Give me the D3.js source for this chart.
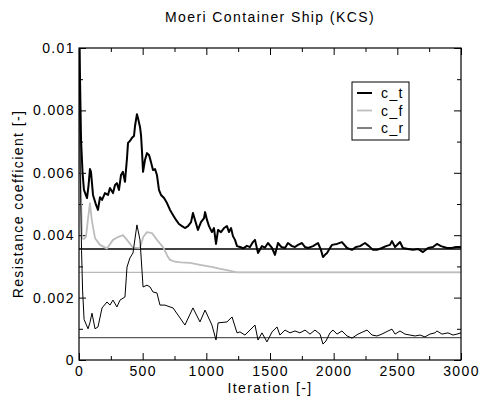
<!DOCTYPE html>
<html>
<head>
<meta charset="utf-8">
<script src="https://cdn.jsdelivr.net/npm/d3@7"></script>
<style>
  body { margin: 0; background: #fff; }
  svg text { font-family: "Liberation Sans", Arial, sans-serif; font-size: 14px; letter-spacing: 1.4px; fill: #000; }
</style>
</head>
<body>
<div id="chart"></div>
<script>
// values are in units of 1e-3
var xTicks = [0, 500, 1000, 1500, 2000, 2500, 3000];
var yTicks = [0, 2, 4, 6, 8, 10];
var yTickLabels = ["0", "0.002", "0.004", "0.006", "0.008", "0.01"];

var ctIter = [0,8,16,28,39,63,75,86,94,110,134,149,165,181,204,228,243,267,283,298,
  314,330,345,361,377,385,400,416,432,440,455,463,479,487,495,503,518,534,550,565,
  581,597,612,628,644,668,691,715,738,762,785,809,832,856,880,895,911,934,958,982,
  990,1005,1021,1044,1060,1076,1092,1115,1139,1162,1178,1194,1209,1225,1241,1264,1290,1319,1343,1366,
  1382,1406,1437,1460,1484,1516,1539,1563,1590,1618,1641,1673,1696,1720,1751,1775,1798,1838,1877,1900,
  1916,1932,1948,1971,1987,2026,2065,2105,2144,2175,2207,2246,2277,2309,2340,2379,2411,2442,2458,2482,
  2521,2544,2584,2623,2662,2701,2741,2780,2811,2843,2890,2929,2961,3000];
var ct = [11.5,9.0,7.05,6.0,5.45,5.19,5.6,6.12,6.03,5.29,4.97,4.81,5.22,5.13,5.35,5.29,5.51,5.35,5.61,5.67,
  5.45,5.93,6.03,5.71,6.47,6.96,7.02,7.12,7.18,7.5,7.88,7.76,7.47,7.21,6.67,6.03,6.41,6.63,6.57,6.35,
  6.09,6.12,5.93,5.45,5.29,5.19,5.03,4.81,4.65,4.49,4.36,4.29,4.23,4.29,4.42,4.71,4.49,4.17,4.42,4.55,
  4.74,4.49,4.29,4.10,4.23,3.72,4.17,4.10,4.23,4.29,4.10,4.23,3.97,3.85,3.65,3.62,3.58,3.66,3.62,3.78,
  3.85,3.43,3.65,3.6,3.75,3.59,3.37,3.75,3.62,3.59,3.75,3.65,3.62,3.69,3.75,3.62,3.59,3.65,3.75,3.53,
  3.30,3.37,3.43,3.59,3.69,3.72,3.78,3.59,3.53,3.62,3.65,3.75,3.65,3.53,3.53,3.59,3.65,3.69,3.81,3.62,
  3.78,3.59,3.56,3.53,3.56,3.46,3.59,3.62,3.72,3.65,3.59,3.59,3.62,3.62];

var cfIter = [0,10,24,40,55,70,86,100,126,165,220,267,306,345,377,424,479,505,534,573,
  612,660,699,715,754,800,872,950,1052,1100,1162,1241,1500,2000,2500,3000];
var cf = [12,6.5,3.9,3.88,3.95,4.5,5.03,4.5,3.9,3.69,3.57,3.85,3.94,4.0,3.85,3.6,3.59,3.95,4.10,4.07,
  3.85,3.62,3.3,3.21,3.15,3.13,3.11,3.05,2.98,2.93,2.88,2.81,2.81,2.81,2.81,2.81];

var crIter = [0,10,20,28,40,71,86,102,126,149,181,220,243,267,298,322,361,377,400,424,
  455,479,503,534,558,581,612,636,675,715,738,793,832,895,950,990,1044,1076,1092,1162,
  1202,1241,1264,1303,1343,1382,1406,1437,1476,1516,1555,1578,1618,1657,1696,1735,1775,1814,1853,1893,
  1916,1940,1971,1995,2026,2065,2105,2144,2191,2230,2262,2301,2340,2379,2427,2458,2482,2521,2560,2599,
  2639,2678,2717,2756,2796,2811,2851,2898,2937,2968,3000];
var cr = [11,6,3.5,2.24,1.3,1.0,1.2,1.5,1.0,1.06,1.67,1.86,1.76,1.92,1.70,1.92,2.02,2.98,3.27,3.43,
  4.33,3.85,2.34,2.40,2.34,2.18,2.15,1.76,1.76,1.70,1.67,1.35,1.12,1.67,1.22,1.60,1.12,0.64,1.19,1.22,
  1.38,0.87,0.90,0.80,0.96,1.12,0.64,0.87,0.58,0.90,1.06,0.80,0.96,0.87,0.93,0.87,0.96,0.83,0.96,0.83,
  0.51,0.61,0.87,0.96,0.83,0.93,0.77,0.70,0.83,0.90,0.96,0.80,0.77,0.83,0.93,0.99,0.83,0.93,0.83,0.80,
  0.77,0.80,0.74,0.83,0.87,0.93,0.83,0.87,0.80,0.83,0.87];

// converged mean values
var meanNames = ["c_t", "c_f", "c_r"];
var meanVals = [3.558, 2.81, 0.715];

var svgWidth = 483, svgHeight = 396;
var margin = {top: 48, right: 22, bottom: 36, left: 79};
var width = svgWidth - margin.left - margin.right;
var height = svgHeight - margin.top - margin.bottom;

var svg = d3.select("#chart").append("svg")
  .attr("width", svgWidth)
  .attr("height", svgHeight);

var chartGroup = svg.append("g")
  .attr("transform", `translate(${margin.left}, ${margin.top})`);

var x = d3.scaleLinear().domain([0, 3000]).range([0, width]);
var y = d3.scaleLinear().domain([0, 10]).range([height, 0]);

chartGroup.append("clipPath").attr("id", "clip")
  .append("rect").attr("width", width).attr("height", height);

// axes: ticks inward on all four sides
function styleAxis(g) {
  g.select(".domain").remove();
  g.selectAll("line").attr("stroke", "#000");
  g.selectAll("text").style("font-size", "14px");
}
var minorX = d3.range(250, 3000, 500);
var minorY = d3.range(1, 10, 2);

chartGroup.append("g").attr("transform", `translate(0, ${height})`)
  .call(d3.axisBottom(x).tickValues(xTicks).tickSizeInner(-7).tickSizeOuter(0).tickPadding(6).tickFormat(d3.format("d")))
  .call(styleAxis);
chartGroup.append("g").attr("transform", `translate(0, ${height})`)
  .call(d3.axisBottom(x).tickValues(minorX).tickSizeInner(-4).tickSizeOuter(0).tickFormat(""))
  .call(styleAxis);
chartGroup.append("g")
  .call(d3.axisTop(x).tickValues(xTicks).tickSizeInner(-7).tickSizeOuter(0).tickFormat(""))
  .call(styleAxis);
chartGroup.append("g")
  .call(d3.axisTop(x).tickValues(minorX).tickSizeInner(-4).tickSizeOuter(0).tickFormat(""))
  .call(styleAxis);

chartGroup.append("g")
  .call(d3.axisLeft(y).tickValues(yTicks).tickSizeInner(-7).tickSizeOuter(0).tickPadding(4).tickFormat((d, i) => yTickLabels[i]))
  .call(styleAxis);
chartGroup.append("g")
  .call(d3.axisLeft(y).tickValues(minorY).tickSizeInner(-4).tickSizeOuter(0).tickFormat(""))
  .call(styleAxis);
chartGroup.append("g").attr("transform", `translate(${width}, 0)`)
  .call(d3.axisRight(y).tickValues(yTicks).tickSizeInner(-7).tickSizeOuter(0).tickFormat(""))
  .call(styleAxis);
chartGroup.append("g").attr("transform", `translate(${width}, 0)`)
  .call(d3.axisRight(y).tickValues(minorY).tickSizeInner(-4).tickSizeOuter(0).tickFormat(""))
  .call(styleAxis);

// mean lines
var meanStyle = [
  {stroke: "#000", w: 1.5},
  {stroke: "#b8b8b8", w: 1.2},
  {stroke: "#333", w: 1}
];
chartGroup.selectAll(".mean")
  .data(meanVals)
  .enter()
  .append("line")
  .attr("class", "mean")
  .attr("x1", 0).attr("x2", width)
  .attr("y1", d => y(d)).attr("y2", d => y(d))
  .attr("stroke", (d, i) => meanStyle[i].stroke)
  .attr("stroke-width", (d, i) => meanStyle[i].w);

// series
var series = [
  {name: "c_t", iter: ctIter, vals: ct, stroke: "#000", w: 2},
  {name: "c_f", iter: cfIter, vals: cf, stroke: "#bdbdbd", w: 1.8},
  {name: "c_r", iter: crIter, vals: cr, stroke: "#000", w: 1}
];
var line = d3.line().x(d => x(d[0])).y(d => y(d[1]));

var drawOrder = [1, 0, 2];
drawOrder.forEach(function(k) {
  var s = series[k];
  chartGroup.append("path")
    .datum(s.iter.map((it, i) => [it, s.vals[i]]))
    .attr("clip-path", "url(#clip)")
    .attr("fill", "none")
    .attr("stroke", s.stroke)
    .attr("stroke-width", s.w)
    .attr("stroke-linejoin", "round")
    .attr("d", line);
});

// frame
chartGroup.append("rect")
  .attr("width", width).attr("height", height)
  .attr("fill", "none").attr("stroke", "#000").attr("stroke-width", 1.2);

// legend
var legend = chartGroup.append("g").attr("transform", "translate(273, 34)");
legend.append("rect")
  .attr("width", 57).attr("height", 58)
  .attr("fill", "#fff").attr("stroke", "#000").attr("stroke-width", 1);
series.forEach(function(s, i) {
  var ly = 11 + i * 17.5;
  legend.append("line")
    .attr("x1", 5).attr("x2", 20).attr("y1", ly).attr("y2", ly)
    .attr("stroke", s.stroke).attr("stroke-width", s.w);
  legend.append("text")
    .attr("x", 29).attr("y", ly + 5)
    .text(s.name);
});

// title and axis labels
svg.append("text")
  .attr("x", margin.left + width / 2).attr("y", 22)
  .attr("text-anchor", "middle")
  .text("Moeri Container Ship (KCS)");

svg.append("text")
  .attr("x", margin.left + width / 2).attr("y", 393)
  .attr("text-anchor", "middle")
  .text("Iteration [-]");

svg.append("text")
  .attr("transform", `translate(23, ${margin.top + height / 2}) rotate(-90)`)
  .attr("text-anchor", "middle")
  .text("Resistance coefficient [-]");
</script>
</body>
</html>
